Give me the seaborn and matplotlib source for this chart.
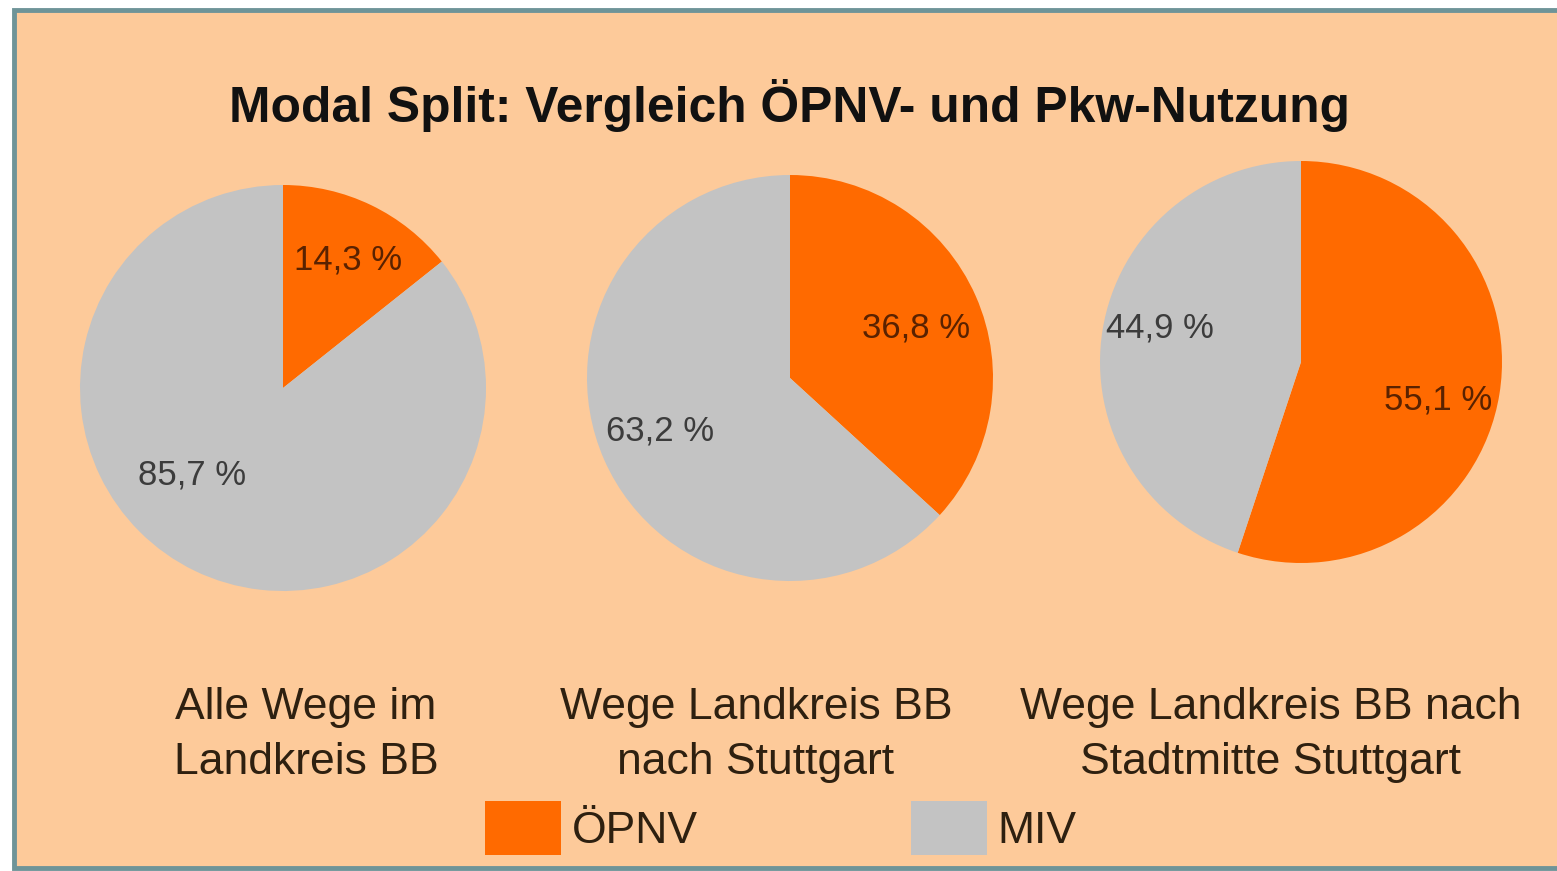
import matplotlib
matplotlib.use("Agg")
import matplotlib.pyplot as plt
import seaborn as sns
from matplotlib.patches import Rectangle, Patch

# Data
modes = ["ÖPNV", "MIV"]
groups = ["Alle Wege im\nLandkreis BB",
          "Wege Landkreis BB\nnach Stuttgart",
          "Wege Landkreis BB nach\nStadtmitte Stuttgart"]
oepnv = [14.3, 36.8, 55.1]
miv = [85.7, 63.2, 44.9]

sns.set_theme(style="white")
plt.rcParams['font.family'] = ['Liberation Sans', 'DejaVu Sans']

colors = ["#FF6A00", "#C3C3C3"]
bg = "#FDCA9A"
W, H = 1557, 871

fig = plt.figure(figsize=(W / 100, H / 100), dpi=100, facecolor="white")

# peach panel with teal border
fig.patches.append(Rectangle((14 / W, 3 / H), 1.2, 858 / H, transform=fig.transFigure,
                             facecolor=bg, edgecolor="#6E9498", linewidth=3.5, zorder=-5))

# pie geometry (centre x, centre y in px from top, radius px)
pie_geo = [(283, 388, 203), (790, 378, 203), (1301, 362, 201)]
# label offsets in radius units: (ÖPNV, MIV)
lab_pos = [[(0.32, 0.63), (-0.45, -0.43)],
           [(0.62, 0.245), (-0.64, -0.26)],
           [(0.68, -0.19), (-0.70, 0.17)]]
lab_col = ["#5A2200", "#3C3C3C"]

for i, (cx, cy, r) in enumerate(pie_geo):
    ax = fig.add_axes([(cx - r) / W, (H - cy - r) / H, 2 * r / W, 2 * r / H], zorder=2)
    ax.pie([oepnv[i], miv[i]], colors=colors, startangle=90, counterclock=False,
           radius=1, wedgeprops=dict(linewidth=0))
    for j, v in enumerate([oepnv[i], miv[i]]):
        txt = f"{v:.1f}".replace(".", ",") + " %"
        ax.text(lab_pos[i][j][0], lab_pos[i][j][1], txt, ha="center", va="center",
                fontsize=25, color=lab_col[j])
    ax.set_xlim(-1, 1)
    ax.set_ylim(-1, 1)
    ax.set_aspect("equal")
    ax.axis("off")

# title
fig.text(789 / W, 1 - 105 / H, "Modal Split: Vergleich ÖPNV- und Pkw-Nutzung",
         ha="center", va="center", fontsize=35.8, fontweight="bold", color="#111111")

# category labels
cat_x = [306, 756, 1271]
for x, g in zip(cat_x, groups):
    fig.text(x / W, 1 - 735 / H, g, ha="center", va="center", fontsize=32,
             color="#2E2010", linespacing=1.45)

# legend
handles = [Patch(facecolor=c, edgecolor="none") for c in colors]
fig.legend(handles, modes, loc="center", bbox_to_anchor=(781 / W, 1 - 828 / H), ncol=2,
           frameon=False, fontsize=32, handlelength=1.7, handleheight=1.5,
           handletextpad=0.25, columnspacing=4.8, labelcolor="#2E2010")

fig.savefig("out.png", dpi=100, facecolor="white")
